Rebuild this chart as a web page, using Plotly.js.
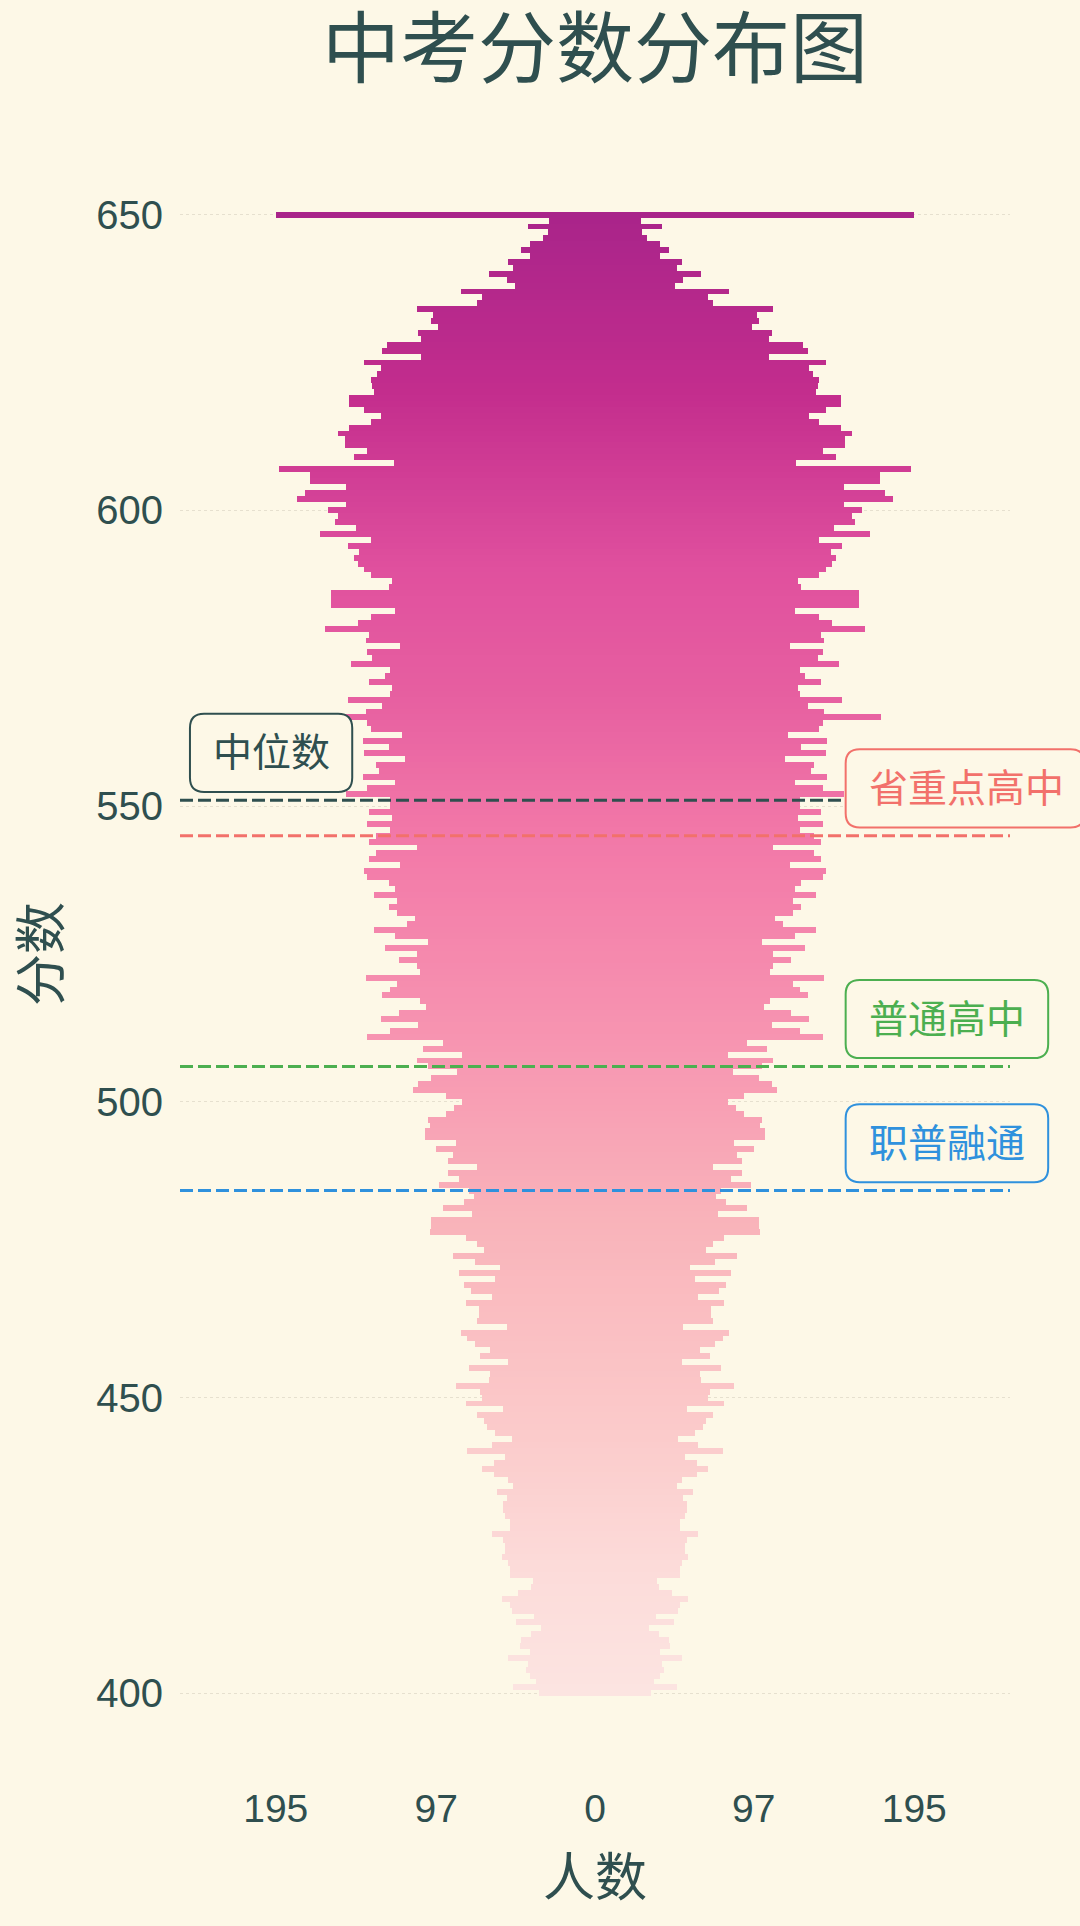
<!DOCTYPE html>
<html>
<head>
<meta charset="utf-8">
<script src="https://cdn.plot.ly/plotly-3.0.1.min.js"></script>
<style>
  html, body { margin: 0; padding: 0; background: #fdf8e7; }
  #chart { width: 1080px; height: 1926px; }
</style>
</head>
<body>
<div id="chart"></div>
<script>
// scores 400 .. 650
const scores = [
  400, 401, 402, 403, 404, 405, 406, 407, 408, 409,
  410, 411, 412, 413, 414, 415, 416, 417, 418, 419,
  420, 421, 422, 423, 424, 425, 426, 427, 428, 429,
  430, 431, 432, 433, 434, 435, 436, 437, 438, 439,
  440, 441, 442, 443, 444, 445, 446, 447, 448, 449,
  450, 451, 452, 453, 454, 455, 456, 457, 458, 459,
  460, 461, 462, 463, 464, 465, 466, 467, 468, 469,
  470, 471, 472, 473, 474, 475, 476, 477, 478, 479,
  480, 481, 482, 483, 484, 485, 486, 487, 488, 489,
  490, 491, 492, 493, 494, 495, 496, 497, 498, 499,
  500, 501, 502, 503, 504, 505, 506, 507, 508, 509,
  510, 511, 512, 513, 514, 515, 516, 517, 518, 519,
  520, 521, 522, 523, 524, 525, 526, 527, 528, 529,
  530, 531, 532, 533, 534, 535, 536, 537, 538, 539,
  540, 541, 542, 543, 544, 545, 546, 547, 548, 549,
  550, 551, 552, 553, 554, 555, 556, 557, 558, 559,
  560, 561, 562, 563, 564, 565, 566, 567, 568, 569,
  570, 571, 572, 573, 574, 575, 576, 577, 578, 579,
  580, 581, 582, 583, 584, 585, 586, 587, 588, 589,
  590, 591, 592, 593, 594, 595, 596, 597, 598, 599,
  600, 601, 602, 603, 604, 605, 606, 607, 608, 609,
  610, 611, 612, 613, 614, 615, 616, 617, 618, 619,
  620, 621, 622, 623, 624, 625, 626, 627, 628, 629,
  630, 631, 632, 633, 634, 635, 636, 637, 638, 639,
  640, 641, 642, 643, 644, 645, 646, 647, 648, 649,
  650
];

// number of students at each score
const counts = [
  34, 50, 36, 40, 42, 41, 53, 40, 46, 45,
  39, 33, 48, 37, 51, 52, 57, 47, 39, 38,
  52, 52, 53, 57, 55, 55, 56, 63, 52, 52,
  55, 56, 56, 54, 60, 50, 53, 62, 69, 62,
  55, 78, 63, 51, 61, 66, 68, 72, 56, 79,
  69, 70, 85, 65, 64, 77, 53, 70, 64, 73,
  78, 82, 54, 72, 71, 71, 79, 63, 76, 80,
  61, 83, 58, 73, 87, 68, 72, 79, 101, 100,
  100, 75, 93, 80, 74, 77, 95, 83, 90, 72,
  90, 87, 97, 85, 104, 104, 101, 102, 91, 86,
  81, 91, 111, 108, 100, 84, 102, 109, 81, 105,
  93, 139, 125, 108, 131, 120, 103, 107, 130, 125,
  121, 140, 107, 109, 120, 109, 128, 102, 122, 135,
  115, 110, 121, 126, 121, 135, 122, 126, 139, 141,
  119, 138, 134, 109, 138, 134, 125, 139, 124, 138,
  125, 125, 152, 139, 122, 142, 132, 134, 116, 141,
  126, 142, 118, 137, 139, 175, 140, 130, 151, 125,
  124, 138, 128, 125, 149, 136, 139, 119, 140, 138,
  165, 145, 137, 122, 161, 161, 161, 126, 124, 137,
  141, 145, 147, 144, 151, 137, 168, 146, 159, 157,
  163, 152, 182, 177, 152, 174, 174, 193, 123, 147,
  139, 153, 153, 157, 150, 137, 131, 141, 150, 150,
  135, 136, 137, 133, 131, 141, 106, 130, 127, 106,
  108, 96, 100, 99, 109, 72, 69, 82, 49, 54,
  65, 50, 53, 40, 45, 40, 32, 29, 41, 28,
  195
];

// reference lines
const lineLabels = ['中位数', '省重点高中', '普通高中', '职普融通'];
const lineScores = [551, 545, 506, 485];

const lineColors = ['#2f4f4f', '#f2716b', '#4caf50', '#2f91dd'];
const textColor = '#2f4f4f';
const bg = '#fdf8e7';

const colorscale = [
  [0, '#fce4e1'], [0.08, '#fcdcda'], [0.18, '#fbcaca'], [0.32, '#f9b3ba'],
  [0.44, '#f795b1'], [0.58, '#f278a8'], [0.68, '#e65ea0'], [0.76, '#e0509e'],
  [0.88, '#c32d8d'], [1, '#a9248a']
];

const maxCount = Math.max(...counts);
const half = Math.floor(maxCount / 2);
const tickvals = [-maxCount, -half, 0, half, maxCount];
const ticktext = tickvals.map(v => String(Math.abs(v)));

const barMarker = { color: scores, colorscale: colorscale, cmin: 400, cmax: 650 };

const left = {
  type: 'bar', orientation: 'h',
  y: scores, x: counts.map(c => -c),
  marker: barMarker, hoverinfo: 'skip'
};
const right = {
  type: 'bar', orientation: 'h',
  y: scores, x: counts,
  marker: barMarker, hoverinfo: 'skip'
};

// box placement (paper x) for each label, and where its text is centred
const boxX = [[0.012, 0.2075], [0.802, 1.09], [0.802, 1.046], [0.802, 1.046]];
const textX = [0.11, 0.9475, 0.924, 0.924];
const boxHalf = 6.6;   // in score units
const labelOffset = 8; // label sits above its line

function roundRect(x0, x1, y0, y1, rx, ry) {
  return 'M' + (x0 + rx) + ',' + y0 +
    ' L' + (x1 - rx) + ',' + y0 +
    ' Q' + x1 + ',' + y0 + ' ' + x1 + ',' + (y0 + ry) +
    ' L' + x1 + ',' + (y1 - ry) +
    ' Q' + x1 + ',' + y1 + ' ' + (x1 - rx) + ',' + y1 +
    ' L' + (x0 + rx) + ',' + y1 +
    ' Q' + x0 + ',' + y1 + ' ' + x0 + ',' + (y1 - ry) +
    ' L' + x0 + ',' + (y0 + ry) +
    ' Q' + x0 + ',' + y0 + ' ' + (x0 + rx) + ',' + y0 + ' Z';
}

var shapes = [];
var annotations = [];

lineScores.forEach(function (s, i) {
  shapes.push({
    type: 'line', layer: 'above',
    xref: 'paper', x0: 0, x1: 1,
    yref: 'y', y0: s, y1: s,
    line: { color: lineColors[i], width: 3, dash: '13px,5px' }
  });
});

lineScores.forEach(function (s, i) {
  var yc = s + labelOffset;
  shapes.push({
    type: 'path', layer: 'above',
    xref: 'paper', yref: 'y',
    path: roundRect(boxX[i][0], boxX[i][1], yc - boxHalf, yc + boxHalf, 0.017, 2.4),
    fillcolor: bg,
    line: { color: lineColors[i], width: 2 }
  });
  annotations.push({
    xref: 'paper', yref: 'y',
    x: textX[i], xanchor: 'center',
    y: yc, yanchor: 'middle',
    text: lineLabels[i],
    showarrow: false,
    font: { size: 39, color: lineColors[i] }
  });
});

var layout = {
  width: 1080,
  height: 1926,
  paper_bgcolor: bg,
  plot_bgcolor: bg,
  font: { family: '"Liberation Sans", "Noto Sans CJK SC", sans-serif', size: 39, color: textColor },
  margin: { l: 180, r: 70, t: 120, b: 138 },
  title: {
    text: '中考分数分布图',
    font: { family: '"Noto Sans CJK SC", sans-serif', size: 78, color: textColor },
    xref: 'paper', x: 0.5, xanchor: 'center',
    yref: 'container', y: 1 - 50 / 1926, yanchor: 'middle'
  },
  barmode: 'overlay',
  bargap: 0,
  showlegend: false,
  xaxis: {
    range: [-maxCount * 1.3, maxCount * 1.3],
    tickvals: tickvals,
    ticktext: ticktext,
    showgrid: false,
    zeroline: false,
    showline: false,
    ticks: '',
    ticklabelstandoff: -6,
    tickfont: { size: 39, color: textColor },
    title: { text: '人数', font: { size: 52, color: textColor, family: '"Noto Sans CJK SC", sans-serif' }, standoff: 30 },
    automargin: false
  },
  yaxis: {
    range: [384, 666],
    dtick: 50,
    tick0: 400,
    showgrid: true,
    gridcolor: '#e6e0cf',
    griddash: 'dot',
    gridwidth: 1,
    zeroline: false,
    showline: false,
    ticks: '',
    ticklabelstandoff: 16,
    tickfont: { size: 40, color: textColor },
    title: { text: '分数', font: { size: 52, color: textColor, family: '"Noto Sans CJK SC", sans-serif' }, standoff: 32 },
    automargin: false
  },
  shapes: shapes,
  annotations: annotations
};

Plotly.newPlot(document.getElementById('chart'), [left, right], layout, { displayModeBar: false, staticPlot: true });
</script>
</body>
</html>
